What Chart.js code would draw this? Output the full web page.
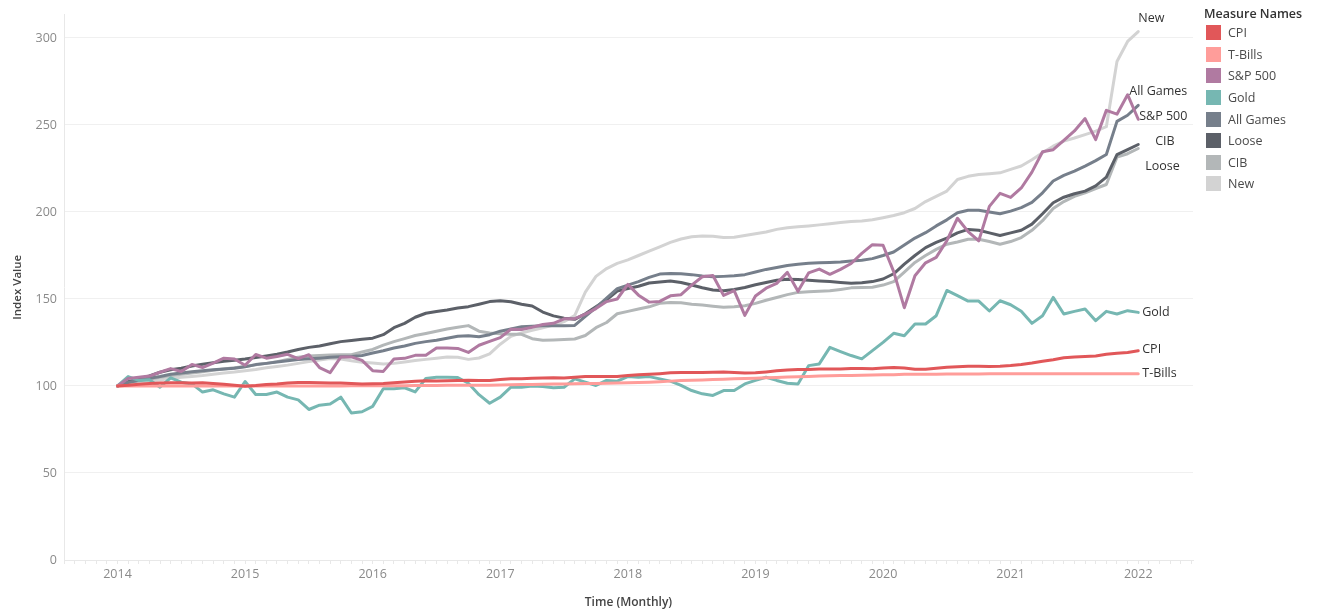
<!DOCTYPE html>
<html><head><meta charset="utf-8">
<script src="https://cdn.jsdelivr.net/npm/chart.js@4.4.1/dist/chart.umd.min.js"></script>
<style>
html,body{margin:0;padding:0;background:#fff;}
#wrap{position:relative;width:1317px;height:615px;overflow:hidden;}
#c{position:absolute;left:0;top:0;}
#legend{position:absolute;left:1204px;top:5px;font-family:'Open Sans',sans-serif;color:#4a4a4a;}
#legend .ttl{font-size:12.5px;font-weight:600;color:#333;height:17px;line-height:18px;}
#legend .it{height:21.6px;display:flex;align-items:center;font-size:12.5px;}
#legend .sw{width:15px;height:15px;margin-left:2px;margin-right:7px;}
</style></head><body>
<div id="wrap"><canvas id="c" width="1317" height="615"></canvas><div id="legend"></div></div>
<script>
const startYear = 2014;
const months = [];
for (let i = 0; i < 97; i++) months.push(`${startYear + Math.floor(i / 12)}-${String(i % 12 + 1).padStart(2, '0')}`);
const yearTicks = ['2014','2015','2016','2017','2018','2019','2020','2021','2022'];
const yTicks = [0, 50, 100, 150, 200, 250, 300];

const seriesNames = ['CPI','T-Bills','S&P 500','Gold','All Games','Loose','CIB','New'];
const seriesColors = ['#e15759','#ff9d9a','#b07aa1','#76b7b2','#767f8b','#5c6068','#b3b7b8','#d3d3d3'];

const cpi = [100,100.4,101.0,101.4,101.7,101.9,101.9,101.7,101.8,101.5,101.0,100.4,
99.9,100.3,100.9,101.1,101.7,102.0,102.0,101.9,101.7,101.7,101.5,101.1,
101.3,101.4,101.8,102.3,102.7,103.0,102.9,103.0,103.2,103.3,103.2,103.2,
103.8,104.1,104.2,104.5,104.6,104.7,104.6,105.0,105.5,105.4,105.5,105.4,
106.0,106.4,106.7,107.1,107.6,107.7,107.7,107.8,107.9,108.1,107.7,107.4,
107.6,108.1,108.7,109.2,109.5,109.5,109.7,109.7,109.8,110.0,110.0,109.9,
110.3,110.6,110.3,109.6,109.6,110.2,110.8,111.1,111.3,111.3,111.2,111.4,
111.8,112.4,113.2,114.2,115.1,116.2,116.7,117.0,117.3,118.2,118.8,119.2,
120.2];

const tBills = [100,100,100,100,100,100,100,100,100,100,100,100,
100,100,100,100,100,100,100,100,100,100,100.1,100.1,
100.1,100.2,100.2,100.2,100.3,100.3,100.3,100.4,100.4,100.4,100.5,100.5,
100.6,100.7,100.8,100.9,101.0,101.1,101.2,101.3,101.4,101.5,101.6,101.7,
101.8,102.0,102.2,102.5,102.8,103.1,103.3,103.5,103.7,103.9,104.1,104.3,
104.5,104.7,104.9,105.1,105.3,105.5,105.7,105.9,106.0,106.1,106.2,106.3,
106.4,106.5,106.7,106.8,106.8,106.8,106.9,106.9,106.9,106.9,107.0,107.0,
107.0,107.0,107.0,107.0,107.1,107.1,107.1,107.1,107.1,107.1,107.1,107.1,
107.1];

const sp500 = [100,104.3,105.0,105.7,107.9,110.0,108.3,112.4,110.6,113.2,116.0,115.5,
111.9,118.1,116.0,117.0,118.2,115.7,118.0,110.6,107.7,116.6,116.7,114.7,
108.8,108.4,115.5,115.9,117.6,117.7,121.9,121.8,121.6,119.3,123.4,125.6,
127.8,132.6,132.5,133.8,135.3,136.0,138.6,138.7,141.3,144.5,148.5,150.0,
158.4,152.2,148.2,148.6,151.8,152.5,158.0,162.8,163.5,152.1,154.8,140.6,
151.7,156.2,159.0,165.3,154.4,165.0,167.2,164.2,167.0,170.4,176.2,181.2,
180.9,165.7,145.0,163.4,170.8,173.9,183.5,196.4,188.7,183.4,203.2,210.7,
208.4,213.8,222.9,234.6,235.8,241.1,246.6,253.7,241.6,258.4,256.2,267.4,
253.3];

const gold = [100,105.4,103.2,103.6,99.3,104.7,102.2,101.2,96.5,97.8,95.5,93.6,
102.6,95.1,95.1,96.5,93.6,92.0,86.5,89.0,89.6,93.6,84.5,85.2,
88.3,98.4,98.4,99.0,96.6,104.3,105.0,105.0,104.9,101.6,95.0,90.1,
93.6,99.3,99.3,100.0,99.7,99.0,99.3,104.1,102.2,100.3,103.2,102.8,
105.4,105.0,105.4,104.1,102.8,100.3,97.4,95.5,94.6,97.4,97.4,101.2,
103.2,105.0,103.2,101.6,101.2,111.7,112.7,122.2,119.8,117.5,115.6,120.3,
125.1,130.3,128.9,135.6,135.6,140.4,154.9,151.9,148.8,148.8,143.1,149.0,
146.7,142.9,136.0,140.4,150.9,141.4,142.9,144.2,137.5,142.9,141.4,143.3,
142.3];

const allGames = [100,102,103.3,104.5,105.5,106.8,107.5,108.2,108.8,109.3,109.8,110.2,
111,112.3,113,113.8,114.5,115.2,115.6,116,116.5,116.8,117,117.5,
119,120.3,121.8,123,124.5,125.5,126.3,127.4,128.6,128.9,128.3,129.5,
131.5,132.8,134,134.4,134.6,134.6,134.6,134.8,140,145,150.5,156,
158,160,162.4,164.3,164.6,164.5,164,163.2,162.8,163,163.3,164,
165.5,167,168.1,169.3,170,170.5,170.8,171,171.3,171.8,172.3,173.2,
175,177,181,185,188.1,192,195.5,199.6,201,201,200,199,
200.5,202.5,205.5,211,217.8,221,223.5,226.4,229.5,233,252.1,255.6,
261.3];

const loose = [100,102.5,104,105.8,107.9,109.3,110.2,111.5,112.5,113.3,114.2,114.8,
115.5,116.4,117.3,118.3,119.5,121,122.2,123,124.3,125.5,126.2,126.8,
127.5,129.5,133.5,136,139.5,141.8,142.8,143.7,144.8,145.6,147,148.5,
149,148.4,147,146,142.5,140.3,139,138.3,141.5,145.5,149.5,154.5,
156,157.3,159.2,159.8,160.3,159.5,158,156.5,155.2,154.8,155.5,156.6,
158.2,159.5,160.8,161.3,161.2,160.8,160.4,160,159.5,159.1,159.3,160,
161.5,164.5,170,175,179.5,182.5,185,188,190,189.5,188,186.5,
188,189.5,193,199,205.3,208.5,210.5,212,215,220,233,235.9,
238.8];

const cib = [100,101.8,103,104,105,106,106.8,107.5,108.2,109,109.8,110.5,
111.2,112.2,113,114,115.2,116.5,117.2,117.5,117.8,118,118,119.5,
121,123.5,125.5,127.2,129,130.2,131.5,132.8,133.7,134.7,131.5,130.5,
130,129.8,129.7,127.2,126.3,126.5,126.7,127,129,133.5,136.5,141.5,
142.9,144.2,145.5,147.5,148,147.8,147,146.5,145.8,145.2,145.5,146.1,
147.5,149.3,150.9,152.5,153.8,154.2,154.5,154.7,155.5,156.4,156.6,156.8,
158,160,165.5,171,175,178.5,181.5,182.8,184.3,184.3,183,181.5,
183,185.3,189.5,195,202,206,209,211,213.5,215.8,231.5,233.5,
236.5];

const newGames = [100,101,102,103,103.5,104.5,105,105.5,106,106.8,107.5,108,
108.8,109.5,110.5,111.2,112,113,114,115,115.8,115.5,114.5,113.7,
113.2,112.7,113,113.8,114.6,115.3,116,116.7,116.5,115.3,116.1,118.5,
124,128.5,130.5,132,133.5,135,137,140.5,154,163,167.5,170.5,
172.5,175,177.5,180,182.5,184.5,185.8,186.2,186,185.3,185.5,186.5,
187.5,188.5,190,191,191.5,192,192.6,193.3,194,194.5,194.8,195.5,
196.7,198,199.6,202,206,209,212,218.7,220.5,221.5,222,222.5,
224.5,226.4,230,234,237.8,240.7,242.5,244.5,246.5,249,286.5,298,
303.7];

const seriesValues = [cpi, tBills, sp500, gold, allGames, loose, cib, newGames];

// label nudges (pixels) relative to each line's last point
const labelNudge = {
  'CPI': [4, -1], 'T-Bills': [4, 0], 'S&P 500': [1, -3], 'Gold': [4, 0],
  'All Games': [-9, -14], 'Loose': [7, 22], 'CIB': [17, -7], 'New': [0, -13]
};

const FONT = "'Open Sans', sans-serif";

const endLabels = {
  id: 'endLabels',
  afterDatasetsDraw(chart) {
    const ctx = chart.ctx;
    ctx.save();
    ctx.font = `12.5px ${FONT}`;
    ctx.fillStyle = '#333';
    ctx.textAlign = 'left';
    ctx.textBaseline = 'middle';
    chart.data.datasets.forEach((ds, i) => {
      const meta = chart.getDatasetMeta(i);
      const pt = meta.data[meta.data.length - 1];
      const n = labelNudge[ds.label] || [4, 0];
      ctx.fillText(ds.label, pt.x + n[0], pt.y + n[1]);
    });
    ctx.restore();
  }
};

const datasets = seriesNames.map((name, i) => ({
  label: name,
  data: months.map((m, j) => ({ x: j, y: seriesValues[i][j] })),
  borderColor: seriesColors[i],
  backgroundColor: seriesColors[i],
  borderWidth: 3,
  pointRadius: 0,
  tension: 0,
  fill: false,
  borderJoinStyle: 'round',
  borderCapStyle: 'round'
}));

new Chart(document.getElementById('c'), {
  type: 'line',
  data: { datasets },
  options: {
    responsive: false,
    animation: false,
    devicePixelRatio: 1,
    layout: { padding: { top: 5, right: 124, left: 0, bottom: 0 } },
    plugins: { legend: { display: false }, tooltip: { enabled: false } },
    scales: {
      x: {
        type: 'linear',
        min: -5.03,
        max: 101.15,
        afterBuildTicks: (s) => {
          const t = [];
          for (let v = -5; v <= 101; v++) t.push({ value: v });
          s.ticks = t;
        },
        afterFit: (s) => { s.height = 55; },
        ticks: {
          autoSkip: false, maxRotation: 0, minRotation: 0, padding: 3,
          color: '#8a8a8a', font: { family: FONT, size: 12.5 },
          callback: (v) => (v % 12 === 0 && v >= 0) ? yearTicks[v / 12] : ''
        },
        grid: { drawOnChartArea: false, drawTicks: true, tickLength: 4, color: '#e8e8e8' },
        border: { color: '#e8e8e8' },
        title: { display: true, text: 'Time (Monthly)', color: '#444',
          font: { family: FONT, size: 12, weight: '600' }, padding: { top: 0, bottom: 5 } }
      },
      y: {
        type: 'linear',
        min: 0,
        max: 313.5,
        afterBuildTicks: (s) => { s.ticks = yTicks.map(v => ({ value: v })); },
        afterFit: (s) => { s.width = 64; },
        ticks: { padding: 7, color: '#8a8a8a', font: { family: FONT, size: 12.5 } },
        grid: { color: '#f0f0f0', drawTicks: false },
        border: { color: '#e8e8e8' },
        title: { display: true, text: 'Index Value', color: '#444',
          font: { family: FONT, size: 11.5, weight: '600' }, padding: { top: 11, bottom: 0 } }
      }
    }
  },
  plugins: [endLabels]
});

// HTML legend built from series names/colours
const lg = document.getElementById('legend');
const t = document.createElement('div'); t.className = 'ttl'; t.textContent = 'Measure Names'; lg.appendChild(t);
seriesNames.forEach((n, i) => {
  const d = document.createElement('div'); d.className = 'it';
  const s = document.createElement('span'); s.className = 'sw'; s.style.background = seriesColors[i];
  const l = document.createElement('span'); l.textContent = n;
  d.appendChild(s); d.appendChild(l); lg.appendChild(d);
});
</script>
</body></html>
